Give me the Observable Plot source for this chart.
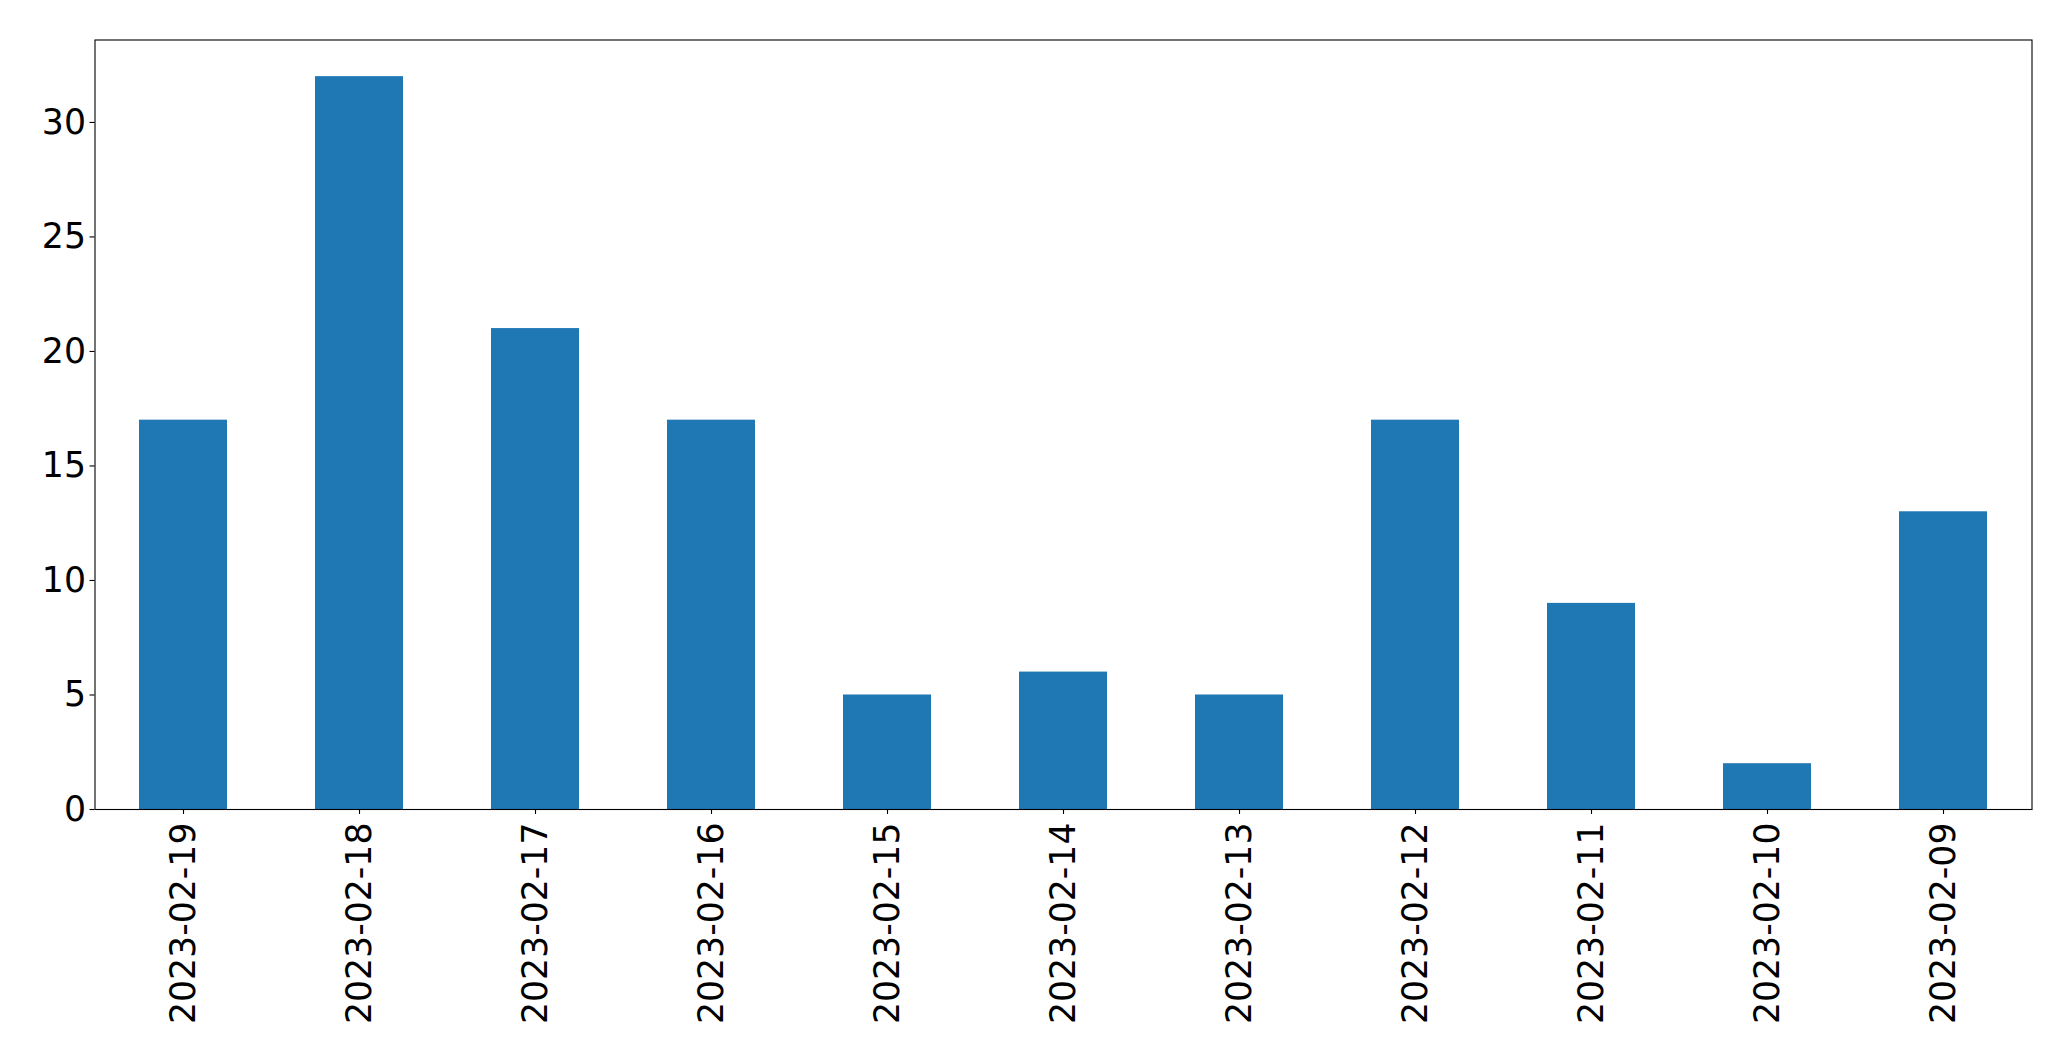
<!DOCTYPE html>
<html>
<head>
<meta charset="utf-8">
<script src="https://cdn.jsdelivr.net/npm/d3@7"></script>
<script src="https://cdn.jsdelivr.net/npm/@observablehq/plot@0.6"></script>
<style>
  html, body { margin: 0; padding: 0; background: #fff; overflow: hidden; }
  #chart svg { display: block; }
</style>
</head>
<body>
<div id="chart"></div>
<script>
const dates = ["2023-02-19","2023-02-18","2023-02-17","2023-02-16","2023-02-15","2023-02-14","2023-02-13","2023-02-12","2023-02-11","2023-02-10","2023-02-09"];
const counts = [17, 32, 21, 17, 5, 6, 5, 17, 9, 2, 13];
const yTicks = [0, 5, 10, 15, 20, 25, 30];

const data = dates.map((d, i) => ({date: d, count: counts[i]}));

const fs = 34.7;
const chart = Plot.plot({
  width: 2071,
  height: 1061,
  marginLeft: 94.5,
  marginRight: 39.5,
  marginTop: 39.5,
  marginBottom: 252,
  style: {fontFamily: "DejaVu Sans", fontSize: fs + "px", color: "#000", background: "#fff"},
  x: {domain: dates, paddingInner: 0.5, paddingOuter: 0.25, align: 0.5, label: null},
  y: {domain: [0, 33.6], label: null},
  marks: [
    Plot.barY(data, {x: "date", y: "count", fill: "#1f77b4"}),
    Plot.frame({stroke: "#000", strokeWidth: 1.1, strokeOpacity: 1}),
    Plot.axisY({ticks: yTicks, tickSize: 5, tickPadding: 4, fontSize: fs, label: null, stroke: "#000", strokeWidth: 1.1, strokeOpacity: 1}),
    Plot.axisX({tickRotate: -90, tickSize: 5, tickPadding: 8, fontSize: fs, label: null, stroke: "#000", strokeWidth: 1.1, strokeOpacity: 1})
  ]
});
document.getElementById("chart").appendChild(chart);
</script>
</body>
</html>
